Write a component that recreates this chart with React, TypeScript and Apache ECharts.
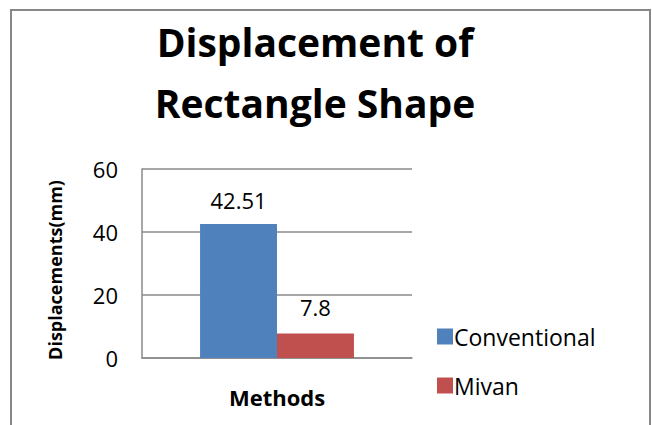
import React, { useEffect, useRef } from "react";
import * as echarts from "echarts";

const categories = [""];
const seriesNames = ["Conventional", "Mivan"];
const conventional = [42.51];
const mivan = [7.8];
const yTicks = { min: 0, max: 60, interval: 20 };

const FONT = "'Open Sans', 'Noto Sans', sans-serif";

export default function App() {
  const ref = useRef<HTMLDivElement>(null);
  useEffect(() => {
    if (!ref.current) return;
    const chart = echarts.init(ref.current, undefined, { renderer: "svg" });
    chart.setOption({
      animation: false,
      backgroundColor: "#ffffff",
      textStyle: { fontFamily: FONT },
      title: {
        text: "Displacement of\nRectangle Shape",
        left: 310,
        top: 6,
        textAlign: "center",
        textStyle: {
          fontFamily: FONT,
          fontWeight: "bold",
          fontSize: 39,
          lineHeight: 61,
          color: "#000000",
        },
      },
      graphic: [
        {
          type: "rect",
          shape: { x: 11, y: 10, width: 639, height: 440 },
          style: { fill: "none", stroke: "#878787", lineWidth: 2 },
          silent: true,
        },
      ],
      legend: {
        orient: "vertical",
        left: 432,
        top: 320,
        itemWidth: 16,
        itemHeight: 16,
        itemGap: 26,
        icon: "rect",
        textStyle: { fontFamily: FONT, fontSize: 23, color: "#000000", padding: [0, 0, 0, -4] },
        data: seriesNames,
      },
      grid: { left: 142, right: 240, top: 169, bottom: 67 },
      xAxis: {
        type: "category",
        data: categories,
        name: "Methods",
        nameLocation: "middle",
        nameGap: 28,
        nameTextStyle: { fontFamily: FONT, fontWeight: "bold", fontSize: 22, color: "#000000" },
        axisLine: { lineStyle: { color: "#8a8a8a", width: 1.5 } },
        axisTick: { show: false },
        axisLabel: { show: false },
      },
      yAxis: {
        type: "value",
        min: yTicks.min,
        max: yTicks.max,
        interval: yTicks.interval,
        name: "Displacements(mm)",
        nameLocation: "middle",
        nameGap: 78,
        nameTextStyle: {
          fontFamily: FONT,
          fontWeight: "bold",
          fontSize: 18,
          color: "#000000",
          padding: [0, 13, 0, 0],
        },
        axisLine: { show: true, lineStyle: { color: "#8a8a8a", width: 1.5 } },
        axisTick: { show: false },
        axisLabel: { fontFamily: FONT, fontSize: 22, color: "#000000", margin: 24 },
        splitLine: { lineStyle: { color: "#8a8a8a", width: 1.5 } },
      },
      series: [
        {
          name: seriesNames[0],
          type: "bar",
          data: conventional,
          barGap: "0%",
          barCategoryGap: "43%",
          itemStyle: { color: "#4F81BD" },
          label: {
            show: true,
            position: "top",
            distance: 13,
            fontFamily: FONT,
            fontSize: 22,
            color: "#000000",
          },
        },
        {
          name: seriesNames[1],
          type: "bar",
          data: mivan,
          itemStyle: { color: "#C0504D" },
          label: {
            show: true,
            position: "top",
            distance: 15,
            fontFamily: FONT,
            fontSize: 22,
            color: "#000000",
          },
        },
      ],
    });
    return () => chart.dispose();
  }, []);
  return (
    <div
      ref={ref}
      style={{ position: "fixed", left: 0, top: 0, width: 652, height: 425 }}
    />
  );
}
